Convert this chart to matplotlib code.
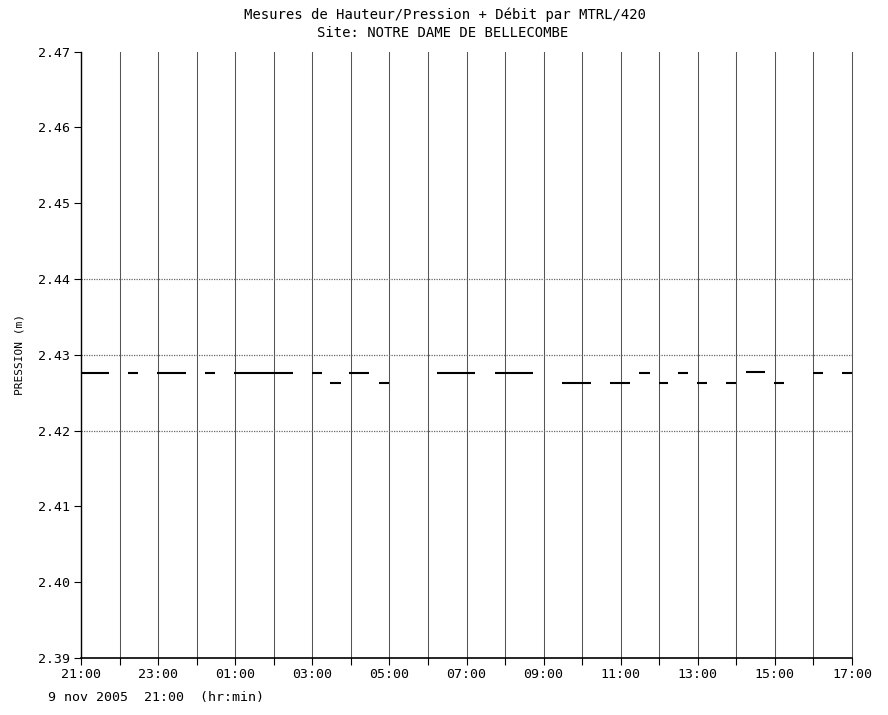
import matplotlib
matplotlib.use("Agg")
import matplotlib.pyplot as plt
import numpy as np

# ---- data (hours elapsed since 9 nov 2005 21:00) ----
seg_start = [0.00, 1.22, 1.97, 3.22, 3.97, 5.99, 6.46, 6.95, 7.73, 9.23, 10.74,
             12.48, 13.72, 14.47, 14.99, 15.49, 15.98, 16.73, 17.25, 17.98, 18.99, 19.74]
seg_end = [0.73, 1.48, 2.72, 3.48, 5.50, 6.25, 6.74, 7.47, 7.99, 10.22, 11.72,
           13.23, 14.24, 14.76, 15.23, 15.75, 16.24, 16.99, 17.74, 18.24, 19.25, 20.00]
seg_level = [2.4276, 2.4276, 2.4276, 2.4276, 2.4276, 2.4276, 2.4263, 2.4276, 2.4263, 2.4276, 2.4276,
             2.4263, 2.4263, 2.4276, 2.4263, 2.4276, 2.4263, 2.4263, 2.4277, 2.4263, 2.4276, 2.4276]

x_major = list(range(0, 21, 2))
x_labels = ["21:00", "23:00", "01:00", "03:00", "05:00", "07:00",
            "09:00", "11:00", "13:00", "15:00", "17:00"]
x_minor = list(range(0, 21))
y_ticks = [2.39, 2.40, 2.41, 2.42, 2.43, 2.44, 2.45, 2.46, 2.47]
y_labels = ["2.39", "2.40", "2.41", "2.42", "2.43", "2.44", "2.45", "2.46", "2.47"]
h_grid = [2.42, 2.43, 2.44]

FONT = "DejaVu Sans Mono"

fig = plt.figure(figsize=(8.88, 7.15), dpi=100)
ax = fig.add_axes([81/888, 1-658/715, (852-81)/888, (658-51.7)/715])

ax.set_xlim(0, 20)
ax.set_ylim(2.39, 2.47)

# vertical hourly grid
for h in x_minor:
    ax.axvline(h, color="#555555", lw=0.75, zorder=1, clip_on=False)
# horizontal dotted grid
for v in h_grid:
    ax.axhline(v, color="#666666", lw=0.9, ls=(0, (1, 1)), zorder=1)

ax.hlines(seg_level, seg_start, seg_end, color="black", lw=1.5, zorder=3)

for s in ["top", "right"]:
    ax.spines[s].set_visible(False)
ax.spines["left"].set_linewidth(1.0)
ax.spines["bottom"].set_linewidth(1.2)

ax.set_xticks(x_major)
ax.set_xticklabels(x_labels, fontfamily=FONT, fontsize=9.5)
ax.set_xticks(x_minor, minor=True)
ax.set_yticks(y_ticks)
ax.set_yticklabels(y_labels, fontfamily=FONT, fontsize=9.5)
ax.tick_params(axis="x", which="both", direction="out", length=5, width=0.8, pad=2)
ax.tick_params(axis="y", which="both", direction="out", length=5, width=0.8, pad=3)

ax.set_ylabel("PRESSION (m)", fontfamily=FONT, fontsize=8, labelpad=10)

fig.text(445/888, 1-15/715, "Mesures de Hauteur/Pression + Débit par MTRL/420",
         ha="center", va="center", fontfamily=FONT, fontsize=10)
fig.text(443/888, 1-33/715, "Site: NOTRE DAME DE BELLECOMBE",
         ha="center", va="center", fontfamily=FONT, fontsize=10)
fig.text(48/888, 1-697/715, "9 nov 2005  21:00  (hr:min)",
         ha="left", va="center", fontfamily=FONT, fontsize=9.5)

fig.savefig("out.png", dpi=100)
